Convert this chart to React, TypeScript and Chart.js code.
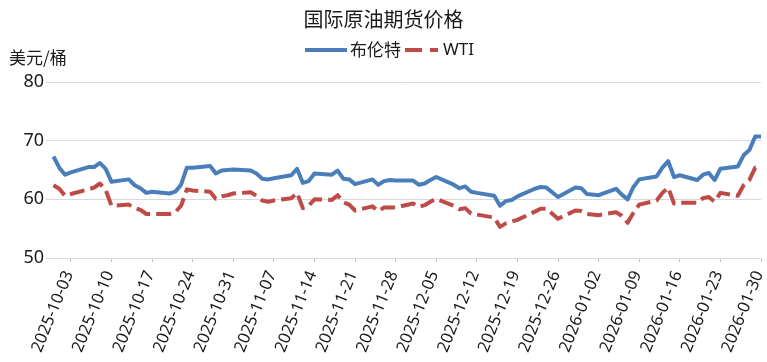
import { useEffect, useRef } from 'react';
import { Chart, registerables } from 'chart.js';

Chart.register(...registerables);

const TITLE = '国际原油期货价格';
const UNIT = '美元/桶';
const SERIES_NAMES = ['布伦特', 'WTI'];

const dates = [
  '2025-09-30', '2025-10-01', '2025-10-02', '2025-10-03',
  '2025-10-06', '2025-10-07', '2025-10-08', '2025-10-09', '2025-10-10',
  '2025-10-13', '2025-10-14', '2025-10-15', '2025-10-16', '2025-10-17',
  '2025-10-20', '2025-10-21', '2025-10-22', '2025-10-23', '2025-10-24',
  '2025-10-27', '2025-10-28', '2025-10-29', '2025-10-30', '2025-10-31',
  '2025-11-03', '2025-11-04', '2025-11-05', '2025-11-06', '2025-11-07',
  '2025-11-10', '2025-11-11', '2025-11-12', '2025-11-13', '2025-11-14',
  '2025-11-17', '2025-11-18', '2025-11-19', '2025-11-20', '2025-11-21',
  '2025-11-24', '2025-11-25', '2025-11-26', '2025-11-27', '2025-11-28',
  '2025-12-01', '2025-12-02', '2025-12-03', '2025-12-04', '2025-12-05',
  '2025-12-08', '2025-12-09', '2025-12-10', '2025-12-11', '2025-12-12',
  '2025-12-15', '2025-12-16', '2025-12-17', '2025-12-18', '2025-12-19',
  '2025-12-22', '2025-12-23', '2025-12-24', '2025-12-26',
  '2025-12-29', '2025-12-30', '2025-12-31', '2026-01-02',
  '2026-01-05', '2026-01-06', '2026-01-07', '2026-01-08', '2026-01-09',
  '2026-01-12', '2026-01-13', '2026-01-14', '2026-01-15', '2026-01-16',
  '2026-01-19', '2026-01-20', '2026-01-21', '2026-01-22', '2026-01-23',
  '2026-01-26', '2026-01-27', '2026-01-28', '2026-01-29', '2026-01-30',
];

const brent = [
  67.3, 65.4, 64.2, 64.6,
  65.5, 65.5, 66.2, 65.2, 63.0,
  63.4, 62.4, 61.9, 61.1, 61.3,
  61.0, 61.3, 62.5, 65.4, 65.4,
  65.7, 64.4, 64.9, 65.0, 65.1,
  64.9, 64.4, 63.5, 63.4, 63.6,
  64.1, 65.2, 62.8, 63.1, 64.4,
  64.2, 64.9, 63.5, 63.4, 62.6,
  63.4, 62.5, 63.1, 63.3, 63.2,
  63.2, 62.5, 62.7, 63.3, 63.8,
  62.5, 61.9, 62.2, 61.3, 61.1,
  60.6, 58.9, 59.7, 59.9, 60.5,
  61.8, 62.1, 62.0, 60.4,
  62.0, 61.9, 60.9, 60.7,
  61.8, 60.8, 60.0, 62.1, 63.4,
  63.9, 65.4, 66.5, 63.8, 64.1,
  63.3, 64.2, 64.5, 63.3, 65.2,
  65.6, 67.5, 68.4, 70.7, 70.7,
];

const wti = [
  62.4, 61.8, 60.6, 60.9,
  61.7, 62.0, 62.7, 61.6, 58.9,
  59.1, 58.5, 58.2, 57.5, 57.5,
  57.5, 57.8, 58.9, 61.7, 61.5,
  61.3, 60.1, 60.5, 60.7, 61.0,
  61.2, 60.6, 59.8, 59.6, 59.8,
  60.2, 61.1, 58.5, 58.9, 60.0,
  59.9, 60.7, 59.5, 59.1, 58.1,
  58.8, 58.0, 58.6, 58.6, 58.6,
  59.3, 58.7, 59.0, 59.6, 60.1,
  58.9, 58.3, 58.5, 57.6, 57.4,
  56.9, 55.3, 55.9, 56.2, 56.5,
  57.9, 58.4, 58.4, 56.7,
  58.1, 58.0, 57.5, 57.3,
  57.8, 57.2, 56.0, 57.7, 59.1,
  59.8, 61.1, 62.0, 59.3, 59.4,
  59.4, 60.2, 60.4, 59.6, 61.1,
  60.6, 62.4, 63.3, 65.4, 65.3,
];

const tickLabels = [
  '2025-10-03', '2025-10-10', '2025-10-17', '2025-10-24', '2025-10-31',
  '2025-11-07', '2025-11-14', '2025-11-21', '2025-11-28', '2025-12-05',
  '2025-12-12', '2025-12-19', '2025-12-26', '2026-01-02', '2026-01-09',
  '2026-01-16', '2026-01-23', '2026-01-30',
];

const yMin = 50;
const yMax = 80;
const yStep = 10;

const BLUE = '#4a7ebb';
const RED = '#be4b48';
const TEXT = '#1a1a1a';
const GRID = '#d9d9d9';
const FONT = "'Noto Sans', 'Noto Sans CJK SC', sans-serif";
const CJK = "'Noto Sans CJK SC', 'Noto Sans', sans-serif";
const DASH = [15, 6];

const ORIGIN = Date.UTC(2025, 9, 3);
function dayIndex(s: string): number {
  const [y, m, d] = s.split('-').map(Number);
  return Math.round((Date.UTC(y, m - 1, d) - ORIGIN) / 86400000);
}
const labelByDay = new Map<number, string>(tickLabels.map((t) => [dayIndex(t), t]));

const overlayPlugin = {
  id: 'overlay',
  afterDraw(chart: any) {
    const ctx = chart.ctx as CanvasRenderingContext2D;
    ctx.save();
    ctx.fillStyle = TEXT;
    ctx.textBaseline = 'middle';
    ctx.font = `20px ${CJK}`;
    ctx.textAlign = 'center';
    ctx.fillText(TITLE, 383.5, 19);
    ctx.font = `17px ${CJK}`;
    ctx.textAlign = 'left';
    ctx.fillText(UNIT, 9, 58);
    const ly = 50;
    ctx.lineWidth = 4;
    ctx.strokeStyle = BLUE;
    ctx.setLineDash([]);
    ctx.beginPath();
    ctx.moveTo(305, ly);
    ctx.lineTo(347, ly);
    ctx.stroke();
    ctx.font = `17px ${CJK}`;
    ctx.fillText(SERIES_NAMES[0], 350, ly);
    ctx.strokeStyle = RED;
    ctx.setLineDash([17, 8]);
    ctx.beginPath();
    ctx.moveTo(405, ly);
    ctx.lineTo(438, ly);
    ctx.stroke();
    ctx.setLineDash([]);
    ctx.font = `17px ${FONT}`;
    ctx.fillText(SERIES_NAMES[1], 443, ly);
    ctx.restore();
  },
};

export default function App() {
  const ref = useRef<HTMLCanvasElement | null>(null);
  useEffect(() => {
    document.body.style.margin = '0';
    const canvas = ref.current;
    if (!canvas) return;
    const chart = new Chart(canvas, {
      type: 'line',
      data: {
        datasets: [
          {
            label: SERIES_NAMES[0],
            data: dates.map((d, i) => ({ x: dayIndex(d), y: brent[i] })),
            borderColor: BLUE,
            backgroundColor: BLUE,
            borderWidth: 4,
            pointRadius: 0,
            tension: 0,
            borderJoinStyle: 'round',
          },
          {
            label: SERIES_NAMES[1],
            data: dates.map((d, i) => ({ x: dayIndex(d), y: wti[i] })),
            borderColor: RED,
            backgroundColor: RED,
            borderWidth: 4,
            borderDash: DASH,
            pointRadius: 0,
            tension: 0,
            borderJoinStyle: 'round',
          },
        ],
      },
      options: {
        responsive: false,
        animation: false,
        devicePixelRatio: 1,
        layout: { padding: { top: 82, right: 6, left: 0, bottom: 0 } },
        plugins: {
          legend: { display: false },
          title: { display: false },
          tooltip: { enabled: false },
        },
        scales: {
          x: {
            type: 'linear',
            min: -3.6,
            max: 119,
            afterBuildTicks: (scale: any) => {
              scale.ticks = tickLabels.map((t) => ({ value: dayIndex(t) }));
            },
            afterFit: (scale: any) => {
              scale.height = 104;
              scale.paddingLeft = 0;
              scale.paddingRight = 0;
            },
            ticks: {
              autoSkip: false,
              minRotation: 68,
              maxRotation: 68,
              padding: 6,
              labelOffset: -2,
              color: TEXT,
              font: { family: FONT, size: 16.5 },
              callback: (v: any) => labelByDay.get(Number(v)) ?? '',
            },
            grid: {
              drawOnChartArea: false,
              drawTicks: true,
              tickLength: 4,
              color: '#bfbfbf',
            },
            border: { display: true, color: GRID, width: 1 },
          },
          y: {
            min: yMin,
            max: yMax,
            afterFit: (scale: any) => {
              scale.width = 50;
              scale.paddingTop = 0;
              scale.paddingBottom = 0;
            },
            ticks: {
              stepSize: yStep,
              padding: 2,
              color: TEXT,
              font: { family: FONT, size: 18 },
            },
            grid: { color: GRID, lineWidth: 1, tickLength: 4 },
            border: { display: false },
          },
        },
      },
      plugins: [overlayPlugin],
    });
    return () => chart.destroy();
  }, []);
  return (
    <div style={{ width: 767, height: 362 }}>
      <canvas ref={ref} width={767} height={362} />
    </div>
  );
}
